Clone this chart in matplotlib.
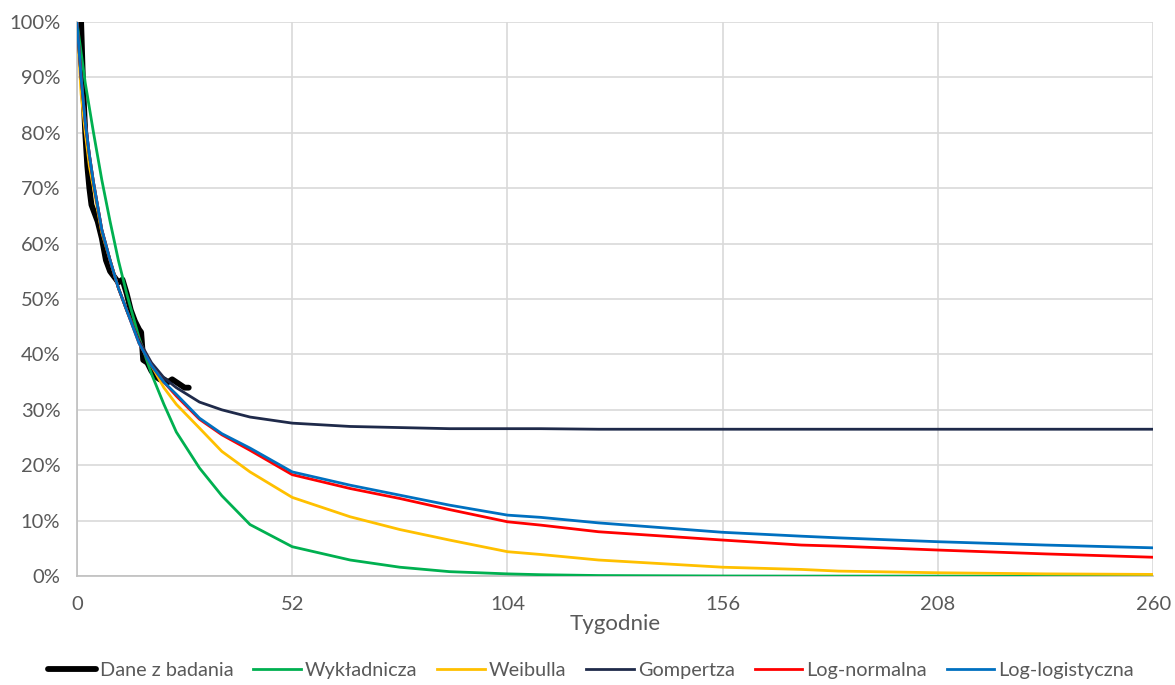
import matplotlib
matplotlib.use("Agg")
import matplotlib.pyplot as plt
from matplotlib.ticker import FuncFormatter

plt.rcParams['font.family'] = ['Lato', 'DejaVu Sans']

# Observed data (Kaplan-Meier, weeks, % surviving)
data_weeks = [0, 1, 1.5, 2, 2.5, 3, 3.5, 4, 5, 6, 7, 8, 9, 10, 11, 12, 13, 14, 15, 15.5,
              16, 17, 18, 19, 20, 21, 22, 23, 24, 25, 26, 27]
data_vals = [100, 100, 88, 80, 74, 70, 67, 66, 64, 61, 57, 55, 54, 53, 53.5, 51, 48, 46, 44.5, 44,
             39, 38.5, 37, 36, 35.5, 35.5, 35, 35.5, 35, 34.5, 34, 34]

# Fitted model curves (weeks, %)
fit_weeks = [0, 1, 2, 3, 4, 6, 8, 10, 12, 15, 18, 21, 24, 29.6, 35, 41.8, 52, 66, 78, 90,
             104, 112, 126, 156, 175, 184, 208, 234, 260]
wykladnicza = [100, 94.5, 89, 84.5, 80, 71.5, 64, 57, 51, 43, 36.5, 31, 26, 19.5, 14.5, 9.3, 5.3,
               2.9, 1.6, 0.8, 0.4, 0.25, 0.1, 0.02, 0, 0, 0, 0, 0]
weibulla = [100, 87, 80, 74, 70, 62, 57, 52, 48, 42.5, 38, 34, 31, 26.7, 22.5, 18.8, 14.2,
            10.7, 8.4, 6.5, 4.4, 3.9, 2.9, 1.6, 1.2, 0.9, 0.6, 0.4, 0.3]
gompertza = [100, 90, 82, 76, 71, 62.5, 57, 52, 48, 42.5, 38.5, 35.8, 34, 31.4, 30, 28.7, 27.6,
             27, 26.8, 26.6, 26.6, 26.6, 26.5, 26.5, 26.5, 26.5, 26.5, 26.5, 26.5]
log_normalna = [100, 90, 82, 76, 71, 62.5, 57, 52, 48, 42, 38, 35, 32.5, 28.3, 25.5, 22.7, 18.3,
                15.8, 14.0, 12.0, 9.8, 9.2, 8.0, 6.5, 5.6, 5.4, 4.7, 4.0, 3.4]
log_logistyczna = [100, 90, 82, 76, 71, 62.5, 57, 52, 48, 42, 38, 35, 32.8, 28.5, 25.7, 23.1, 18.8,
                   16.4, 14.6, 12.8, 11.0, 10.6, 9.6, 7.9, 7.2, 6.9, 6.2, 5.6, 5.1]

x_ticks = [0, 52, 104, 156, 208, 260]
y_ticks = [0, 10, 20, 30, 40, 50, 60, 70, 80, 90, 100]

fig = plt.figure(figsize=(11.75, 6.85), dpi=100)
ax = fig.add_axes([0.0655, 0.159, 0.916, 0.809])

ax.plot(data_weeks, data_vals, color='#000000', lw=4.2, label='Dane z badania',
        solid_capstyle='round', zorder=3)
ax.plot(fit_weeks, wykladnicza, color='#00B050', lw=2.0, label='Wykładnicza', zorder=4)
ax.plot(fit_weeks, weibulla, color='#FFC000', lw=2.0, label='Weibulla', zorder=4)
ax.plot(fit_weeks, gompertza, color='#1F2A4A', lw=2.0, label='Gompertza', zorder=4)
ax.plot(fit_weeks, log_normalna, color='#FF0000', lw=2.0, label='Log-normalna', zorder=4)
ax.plot(fit_weeks, log_logistyczna, color='#0070C0', lw=2.0, label='Log-logistyczna', zorder=5)

ax.set_xlim(0, 260)
ax.set_ylim(0, 100)
ax.set_xticks(x_ticks)
ax.set_yticks(y_ticks)
ax.yaxis.set_major_formatter(FuncFormatter(lambda v, p: f"{int(v)}%"))
ax.grid(True, color='#D9D9D9', lw=1.2)
ax.set_axisbelow(True)
for s in ['top', 'right']:
    ax.spines[s].set_visible(False)
for s in ['left', 'bottom']:
    ax.spines[s].set_color('#BFBFBF')
    ax.spines[s].set_linewidth(1.2)
ax.tick_params(length=0, labelsize=14.5, colors='#595959')
ax.tick_params(axis='y', pad=12)
ax.tick_params(axis='x', pad=14)
ax.set_xlabel('Tygodnie', fontsize=16, color='#595959', labelpad=1)

fig.legend(loc='lower center', bbox_to_anchor=(0.503, -0.017), ncol=6, frameon=False,
           fontsize=14.3, handlelength=2.4, handletextpad=0.2, columnspacing=1.0,
           labelcolor='#595959')

fig.savefig('out.png', dpi=100)
